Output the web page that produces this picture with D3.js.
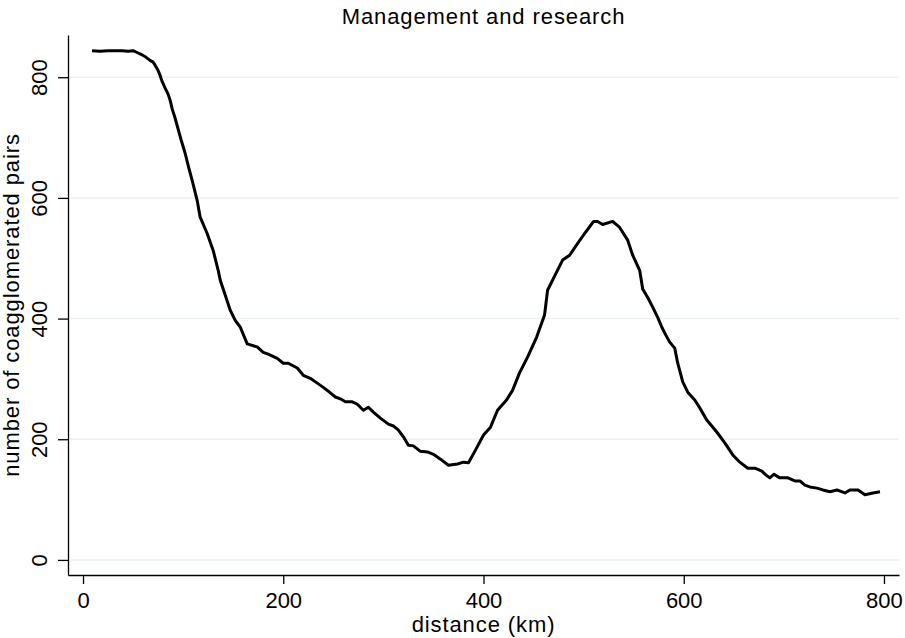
<!DOCTYPE html>
<html>
<head>
<meta charset="utf-8">
<script src="https://cdn.jsdelivr.net/npm/d3@7"></script>
<style>
  body { margin: 0; background: #fff; }
  svg { display: block; font-family: "Liberation Sans", Arial, sans-serif; }
  .grid line { stroke: #eaf2f3; stroke-width: 1.5; }
  .axis path, .axis line { stroke: #000; stroke-width: 1.3; }
  .axis text { font-size: 22px; fill: #000; }
  .label { font-size: 22px; letter-spacing: 0.9px; }
</style>
</head>
<body>
<div id="chart"></div>
<script>
// distance (km) and number of coagglomerated pairs
var distance = [9, 17, 25, 32, 39, 45, 50, 54, 58, 63, 67, 70, 72, 75, 77, 79, 82, 85, 87, 89,
  92, 95, 98, 102, 105, 109, 114, 117, 124, 130, 135, 137, 142, 147, 152, 157, 164, 174, 180, 185,
  194, 200, 205, 214, 220, 227, 234, 240, 247, 252, 257, 262, 269, 274, 280, 285, 290, 297, 305, 310,
  315, 320, 325, 330, 337, 344, 350, 357, 365, 374, 380, 385, 392, 400, 407, 414, 423, 429, 436, 444,
  453, 461, 464, 473, 479, 486, 493, 501, 510, 514, 519, 529, 536, 544, 549, 556, 559, 564, 569, 574,
  578, 582, 586, 591, 594, 599, 604, 611, 616, 623, 633, 641, 649, 656, 664, 671, 678, 682, 686, 690,
  696, 704, 711, 716, 721, 726, 733, 739, 746, 753, 761, 766, 774, 781, 789, 796];
var pairs = [844, 843, 844, 844, 844, 843, 844, 841, 838, 833, 828, 825, 820, 811, 803, 793, 782, 772, 762, 748,
  732, 714, 696, 674, 654, 629, 596, 568, 541, 513, 480, 464, 439, 414, 397, 386, 358, 353, 344, 341,
  334, 326, 326, 318, 306, 301, 293, 286, 277, 270, 267, 262, 262, 258, 248, 253, 245, 235, 225, 222,
  215, 204, 190, 189, 180, 179, 175, 167, 157, 159, 162, 161, 182, 207, 220, 248, 265, 281, 310, 336,
  369, 406, 447, 477, 497, 505, 522, 541, 561, 561, 556, 561, 551, 530, 505, 480, 449, 435, 419, 402,
  386, 373, 361, 351, 326, 295, 278, 265, 252, 232, 212, 194, 174, 162, 152, 152, 147, 141, 136, 142,
  136, 136, 131, 131, 124, 121, 119, 116, 113, 116, 111, 116, 116, 108, 111, 113];
var xTicks = [0, 200, 400, 600, 800];
var yTicks = [0, 200, 400, 600, 800];
var title = "Management and research";
var xTitle = "distance (km)";
var yTitle = "number of coagglomerated pairs";

var width = 905, height = 638;
var margin = { top: 35, right: 6, bottom: 63, left: 68 };

var svg = d3.select("#chart").append("svg")
  .attr("width", width)
  .attr("height", height);

var x = d3.scaleLinear().domain([-15, 815]).range([margin.left, width - margin.right]);
var y = d3.scaleLinear().domain([-25, 870]).range([height - margin.bottom, margin.top]);

// grid
svg.append("g")
  .attr("class", "grid")
  .selectAll("line")
  .data(yTicks)
  .join("line")
  .attr("x1", margin.left)
  .attr("x2", width - margin.right)
  .attr("y1", d => y(d))
  .attr("y2", d => y(d));

// x axis
var gx = svg.append("g")
  .attr("class", "axis")
  .attr("transform", `translate(0,${height - margin.bottom})`)
  .call(d3.axisBottom(x).tickValues(xTicks).tickSize(9).tickSizeOuter(0).tickPadding(8));
gx.selectAll("text").attr("dy", "0.71em");

// y axis
var gy = svg.append("g")
  .attr("class", "axis")
  .attr("transform", `translate(${margin.left},0)`)
  .call(d3.axisLeft(y).tickValues(yTicks).tickSize(10).tickSizeOuter(0));
gy.selectAll(".tick text")
  .attr("transform", "rotate(-90)")
  .attr("x", 0)
  .attr("y", -21)
  .attr("dy", 0)
  .attr("text-anchor", "middle");

// line
var line = d3.line()
  .x((d, i) => x(distance[i]))
  .y(d => y(d));

svg.append("path")
  .datum(pairs)
  .attr("fill", "none")
  .attr("stroke", "#000")
  .attr("stroke-width", 3)
  .attr("stroke-linejoin", "round")
  .attr("d", line);

// titles
var cx = (margin.left + width - margin.right) / 2;

svg.append("text")
  .attr("class", "label")
  .attr("x", cx)
  .attr("y", 24)
  .attr("text-anchor", "middle")
  .text(title);

svg.append("text")
  .attr("class", "label")
  .attr("x", cx)
  .attr("y", 632)
  .attr("text-anchor", "middle")
  .text(xTitle);

svg.append("text")
  .attr("class", "label")
  .attr("transform", `translate(19,${(margin.top + height - margin.bottom) / 2}) rotate(-90)`)
  .attr("text-anchor", "middle")
  .text(yTitle);
</script>
</body>
</html>
